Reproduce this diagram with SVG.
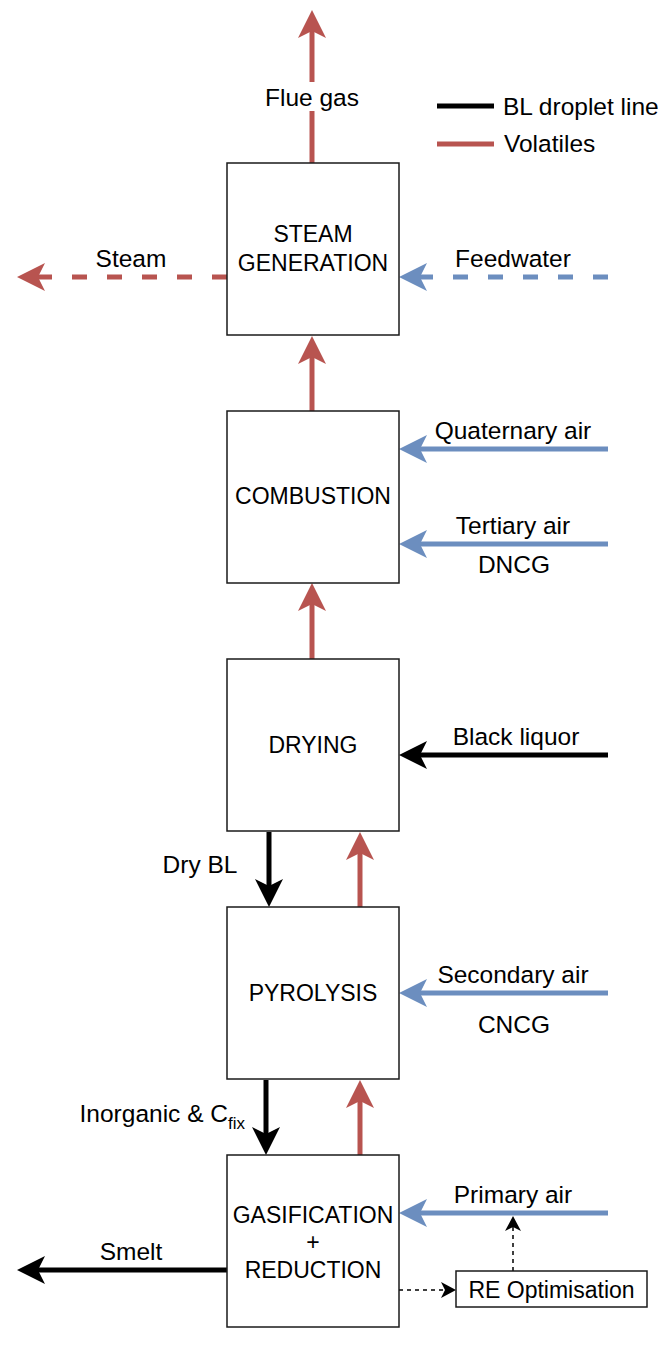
<svg xmlns="http://www.w3.org/2000/svg" width="662" height="1358" viewBox="0 0 662 1358">
<style>
  .box { fill: #ffffff; stroke: #1a1a1a; stroke-width: 1.5; }
  .lbl { font-family: "Liberation Sans", Arial, Helvetica, sans-serif; font-size: 24.5px; fill: #000; }
  .bt { font-family: "Liberation Sans", Arial, Helvetica, sans-serif; font-size: 23px; fill: #000; text-anchor: middle; }
  .mid { text-anchor: middle; }
  .red { fill: none; stroke: #b85450; stroke-width: 5; }
  .blue { fill: none; stroke: #6c8ebf; stroke-width: 5; }
  .blk { fill: none; stroke: #000000; stroke-width: 5; }
  .dash { stroke-dasharray: 15 20; }
  .thin { fill: none; stroke: #000000; stroke-width: 1.5; stroke-dasharray: 4 4; }
</style>
<defs>
  <marker id="aRed" markerUnits="userSpaceOnUse" markerWidth="30" markerHeight="30" refX="8" refY="14" orient="auto" overflow="visible">
    <path d="M28,14 L0,0 L7,14 L0,28 Z" fill="#b85450"/>
  </marker>
  <marker id="aBlue" markerUnits="userSpaceOnUse" markerWidth="30" markerHeight="30" refX="8" refY="14" orient="auto" overflow="visible">
    <path d="M28,14 L0,0 L7,14 L0,28 Z" fill="#6c8ebf"/>
  </marker>
  <marker id="aBlk" markerUnits="userSpaceOnUse" markerWidth="30" markerHeight="30" refX="8" refY="14" orient="auto" overflow="visible">
    <path d="M28,14 L0,0 L7,14 L0,28 Z" fill="#000000"/>
  </marker>
  <marker id="aThin" markerUnits="userSpaceOnUse" markerWidth="16" markerHeight="16" refX="4" refY="8" orient="auto" overflow="visible">
    <path d="M15,8 L0,0 L4,8 L0,16 Z" fill="#000000"/>
  </marker>
</defs>

<g id="legend">
  <line x1="437" y1="106" x2="494" y2="106" class="blk"/>
  <text x="503" y="115" class="lbl">BL droplet line</text>
  <line x1="437" y1="144" x2="494" y2="144" class="red"/>
  <text x="504" y="152" class="lbl">Volatiles</text>
</g>

<g id="connectors">
  <!-- flue gas -->
  <path d="M312,163 L312,111" class="red"/>
  <path d="M312,82 L312,30" class="red" marker-end="url(#aRed)"/>
  <!-- steam / feedwater -->
  <path d="M227,277 L37,277" class="red dash" marker-end="url(#aRed)"/>
  <path d="M608,277 L419,277" class="blue dash" marker-end="url(#aBlue)"/>
  <!-- combustion to steam -->
  <path d="M312,411 L312,356" class="red" marker-end="url(#aRed)"/>
  <!-- air to combustion -->
  <path d="M608,449 L419,449" class="blue" marker-end="url(#aBlue)"/>
  <path d="M608,544 L419,544" class="blue" marker-end="url(#aBlue)"/>
  <!-- drying to combustion -->
  <path d="M312,659 L312,603" class="red" marker-end="url(#aRed)"/>
  <!-- black liquor -->
  <path d="M608,755 L419,755" class="blk" marker-end="url(#aBlk)"/>
  <!-- drying / pyrolysis -->
  <path d="M269,832 L269,887" class="blk" marker-end="url(#aBlk)"/>
  <path d="M360,907 L360,852" class="red" marker-end="url(#aRed)"/>
  <!-- secondary air -->
  <path d="M608,993 L419,993" class="blue" marker-end="url(#aBlue)"/>
  <!-- pyrolysis / gasification -->
  <path d="M266,1080 L266,1135" class="blk" marker-end="url(#aBlk)"/>
  <path d="M360,1155 L360,1100" class="red" marker-end="url(#aRed)"/>
  <!-- primary air -->
  <path d="M608,1213 L419,1213" class="blue" marker-end="url(#aBlue)"/>
  <!-- smelt -->
  <path d="M227,1270 L37,1270" class="blk" marker-end="url(#aBlk)"/>
  <!-- RE optimisation dashed -->
  <path d="M399,1290 L445,1290" class="thin" marker-end="url(#aThin)"/>
  <path d="M513,1271 L513,1227" class="thin" marker-end="url(#aThin)"/>
</g>

<g id="labels">
  <text x="312" y="106" class="lbl mid">Flue gas</text>
  <text x="131" y="267" class="lbl mid">Steam</text>
  <text x="513" y="267" class="lbl mid">Feedwater</text>
  <text x="513" y="439" class="lbl mid">Quaternary air</text>
  <text x="513" y="534" class="lbl mid">Tertiary air</text>
  <text x="514" y="573" class="lbl mid">DNCG</text>
  <text x="516" y="745" class="lbl mid">Black liquor</text>
  <text x="200" y="873" class="lbl mid">Dry BL</text>
  <text x="513" y="983" class="lbl mid">Secondary air</text>
  <text x="514" y="1033" class="lbl mid">CNCG</text>
  <text x="245" y="1122" class="lbl" text-anchor="end">Inorganic &amp; C<tspan font-size="17" dy="7">fix</tspan></text>
  <text x="513" y="1203" class="lbl mid">Primary air</text>
  <text x="131" y="1260" class="lbl mid">Smelt</text>
</g>

<g id="steam-generation">
  <rect x="227" y="163" width="172" height="172" class="box"/>
  <text x="313" y="242" class="bt">STEAM</text>
  <text x="313" y="271" class="bt">GENERATION</text>
</g>
<g id="combustion">
  <rect x="227" y="411" width="172" height="172" class="box"/>
  <text x="313" y="504" class="bt">COMBUSTION</text>
</g>
<g id="drying">
  <rect x="227" y="659" width="172" height="172" class="box"/>
  <text x="313" y="753" class="bt">DRYING</text>
</g>
<g id="pyrolysis">
  <rect x="227" y="907" width="172" height="172" class="box"/>
  <text x="313" y="1001" class="bt">PYROLYSIS</text>
</g>
<g id="gasification">
  <rect x="227" y="1155" width="172" height="172" class="box"/>
  <text x="313" y="1223" class="bt">GASIFICATION</text>
  <text x="313" y="1250" class="bt">+</text>
  <text x="313" y="1278" class="bt">REDUCTION</text>
</g>
<g id="re-optimisation">
  <rect x="456" y="1271" width="191" height="36" class="box"/>
  <text x="551.5" y="1298" class="bt">RE Optimisation</text>
</g>
</svg>
